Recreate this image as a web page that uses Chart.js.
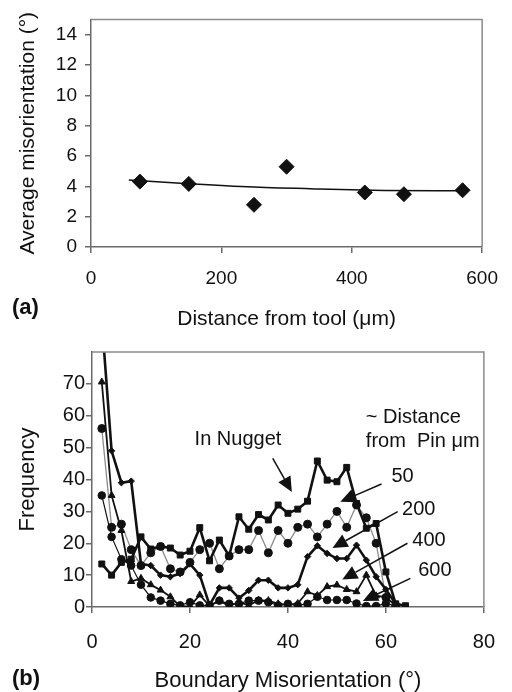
<!DOCTYPE html>
<html><head><meta charset="utf-8">
<script src="https://cdn.jsdelivr.net/npm/chart.js@4.4.0/dist/chart.umd.min.js"></script>
<style>
html,body{margin:0;padding:0;background:#fff;width:512px;height:692px;overflow:hidden}
canvas{position:absolute;left:0}
#ca{top:0}
#cb{top:330px}
</style></head><body>
<canvas id="ca" width="512" height="330"></canvas>
<canvas id="cb" width="512" height="362"></canvas>
<script>
// ---------- Panel (a) data ----------
const DIST_UM = [75, 150, 250, 300, 420, 480, 570];
const AVG_MISOR = [4.31, 4.16, 2.78, 5.29, 3.59, 3.48, 3.74];
const TREND_X = [58, 150, 250, 350, 450, 570];
const TREND_Y = [4.42, 4.17, 3.95, 3.82, 3.73, 3.70];
const A_X_TICKS = [0, 200, 400, 600];
const A_Y_TICKS = [0, 2, 4, 6, 8, 10, 12, 14];

// ---------- Panel (b) data ----------
const BIN_X = [2,4,6,8,10,12,14,16,18,20,22,24,26,28,30,32,34,36,38,40,42,44,46,48,50,52,54,56,58,60,62,64];
const IN_NUGGET = [13.5,10,14,15,22,18.2,19,18.5,16.3,17.5,24.9,14.5,21,16,28.3,24.4,29,27.3,32,29.4,30.7,33.2,45.8,39.8,39.3,43.8,32.5,24.7,26.2,11,1,0.4];
const PIN_50 = [56,25,26,18,13,17,19,12,11,14,18,20,12,16,18,18,24,17,24,20,25,26,22,26,30,25,32,28,20,3,0.5];
const PIN_200 = [90,49,39,39.5,13.5,13,10,9.5,10.5,13.5,10,0.6,6,6,2.8,5.2,8.4,8.4,6,6,7,15.8,19.2,16.8,15.2,15.2,19.4,14.7,9.5,5.5,1];
const PIN_400 = [70.6,35,24,8,9,7,5.3,3.2,0.2,0.2,3.8,0.3,2,0.3,1.6,0.5,2.1,2,1,0.7,1.1,4.8,3.6,6.4,6.9,5.5,4.8,10,3.5,3.2,0.4];
const PIN_600 = [35,22,15,13,7,3,2,1,0.5,1.5,0.5,0.5,2,1,1,2,2,1.5,0.5,1,0.5,1,3.2,2.2,2.2,2.2,1.1,0.3,0.3,1.1,0.3];
const B_X_TICKS = [0, 20, 40, 60, 80];
const B_Y_TICKS = [0, 10, 20, 30, 40, 50, 60, 70];

// annotation labels (in data units of panel b)
const NOTE_TEXT = ['In Nugget', '~ Distance', 'from  Pin \u03bcm', '50', '200', '400', '600'];
const NOTE_X = [29.8, 55.9, 55.9, 63.4, 66.7, 68.8, 70];
const NOTE_Y = [52.6, 59.4, 51.8, 41.1, 30.6, 20.9, 11.3];
const NOTE_ALIGN = ['center', 'left', 'left', 'center', 'center', 'center', 'center'];
const ARROW_FROM_X = [36.9, 59.1, 62.4, 64.4, 65.0];
const ARROW_FROM_Y = [46.6, 38.6, 29.9, 20.0, 9.0];
const ARROW_TO_X = [40.8, 50.7, 49.1, 51.1, 55.3];
const ARROW_TO_Y = [36.1, 33.0, 18.5, 8.6, 1.9];

const FONT = "'Liberation Sans', Arial, Helvetica, sans-serif";
const INK = '#111';
const AXIS = '#6a6a6a';

function pts(xs, ys) { return ys.map((y, i) => ({x: xs[i], y: y})); }

const framePlugin = {
  id: 'frame',
  afterDatasetsDraw(chart) {
    const a = chart.chartArea, c = chart.ctx;
    c.save();
    c.strokeStyle = '#8a8a8a';
    c.lineWidth = 1.5;
    c.beginPath();
    c.moveTo(a.left, a.top); c.lineTo(a.right, a.top); c.lineTo(a.right, a.bottom);
    c.stroke();
    c.restore();
  }
};

function panelLabel(text, x, y) {
  return {
    id: 'panel' + text,
    afterDraw(chart) {
      const c = chart.ctx;
      c.save();
      c.font = 'bold 22px ' + FONT;
      c.fillStyle = INK;
      c.textAlign = 'left';
      c.textBaseline = 'middle';
      c.fillText(text, x, y);
      c.restore();
    }
  };
}

const notesPlugin = {
  id: 'notes',
  afterDraw(chart) {
    const xs = chart.scales.x, ys = chart.scales.y, c = chart.ctx;
    c.save();
    c.fillStyle = INK;
    c.strokeStyle = INK;
    c.font = '20px ' + FONT;
    c.textBaseline = 'middle';
    NOTE_TEXT.forEach((t, i) => {
      c.textAlign = NOTE_ALIGN[i];
      c.fillText(t, xs.getPixelForValue(NOTE_X[i]), ys.getPixelForValue(NOTE_Y[i]));
    });
    ARROW_FROM_X.forEach((fx, i) => {
      const x0 = xs.getPixelForValue(fx), y0 = ys.getPixelForValue(ARROW_FROM_Y[i]);
      const x1 = xs.getPixelForValue(ARROW_TO_X[i]), y1 = ys.getPixelForValue(ARROW_TO_Y[i]);
      const L = Math.hypot(x1 - x0, y1 - y0), ux = (x1 - x0) / L, uy = (y1 - y0) / L;
      const head = 15, hw = 7;
      const bx = x1 - ux * head, by = y1 - uy * head;
      c.lineWidth = 1.5;
      c.beginPath(); c.moveTo(x0, y0); c.lineTo(bx, by); c.stroke();
      c.beginPath();
      c.moveTo(x1, y1);
      c.lineTo(bx - uy * hw, by + ux * hw);
      c.lineTo(bx + uy * hw, by - ux * hw);
      c.closePath(); c.fill();
    });
    c.restore();
  }
};

function axisCommon(fontSize, pad) {
  return {
    grid: {display: true, drawOnChartArea: false, drawTicks: true, tickLength: 6, color: AXIS, lineWidth: 1.5},
    border: {display: true, color: AXIS, width: 1.5},
    ticks: {font: {family: FONT, size: fontSize}, color: INK, padding: pad, maxRotation: 0, autoSkip: false}
  };
}

// ---------- Chart (a) ----------
const ax = axisCommon(19, 14), ay = axisCommon(19, 8);
new Chart(document.getElementById('ca'), {
  type: 'scatter',
  data: {datasets: [
    {data: pts(DIST_UM, AVG_MISOR), pointStyle: 'rectRot', pointRadius: 7.5, backgroundColor: INK, borderColor: INK, borderWidth: 1, showLine: false},
    {data: pts(TREND_X, TREND_Y), showLine: true, pointRadius: 0, borderColor: INK, borderWidth: 1.5, cubicInterpolationMode: 'monotone'}
  ]},
  options: {
    responsive: false, animation: false, devicePixelRatio: 1,
    layout: {padding: {top: 12, right: 25, left: 0, bottom: 0}},
    plugins: {legend: {display: false}, tooltip: {enabled: false}},
    scales: {
      x: Object.assign(ax, {
        type: 'linear', min: 0, max: 600,
        afterFit(s) { s.height = 83; },
        afterBuildTicks(s) { s.ticks = A_X_TICKS.map(v => ({value: v})); },
        title: {display: true, text: 'Distance from tool (\u03bcm)', color: INK, font: {family: FONT, size: 21, lineHeight: 1}, padding: {top: 12, bottom: 0}}
      }),
      y: Object.assign(ay, {
        type: 'linear', min: 0, max: 15,
        afterFit(s) { s.width = 91; },
        afterBuildTicks(s) { s.ticks = A_Y_TICKS.map(v => ({value: v})); },
        title: {display: true, text: 'Average misorientation (\u00b0)', color: INK, font: {family: FONT, size: 21, lineHeight: 1}, padding: {top: 18, bottom: 0}}
      })
    }
  },
  plugins: [framePlugin, panelLabel('(a)', 12, 308)]
});

// ---------- Chart (b) ----------
const bx = axisCommon(20, 17), by = axisCommon(20, 1);
function series(ys, style, radius, lineColor, width) {
  return {data: pts(BIN_X, ys), pointStyle: style, pointRadius: radius, pointBackgroundColor: INK, pointBorderColor: INK, pointBorderWidth: 1,
          borderColor: lineColor, borderWidth: width, tension: 0, fill: false};
}
new Chart(document.getElementById('cb'), {
  type: 'line',
  data: {datasets: [
    Object.assign(series(IN_NUGGET, 'rect', 4.2, INK, 2.6), {label: 'In Nugget'}),
    Object.assign(series(PIN_200, 'rectRot', 3.2, INK, 2.6), {label: '200'}),
    Object.assign(series(PIN_400, 'triangle', 4, INK, 1.8), {label: '400'}),
    Object.assign(series(PIN_600, 'circle', 3.8, INK, 1.2), {label: '600'}),
    Object.assign(series(PIN_50, 'circle', 4, '#8c8c8c', 1.3), {label: '50'})
  ]},
  options: {
    responsive: false, animation: false, devicePixelRatio: 1,
    layout: {padding: {top: 22, right: 16, left: 0, bottom: 0}},
    plugins: {legend: {display: false}, tooltip: {enabled: false}},
    scales: {
      x: Object.assign(bx, {
        type: 'linear', min: 0, max: 80,
        afterFit(s) { s.height = 85; },
        afterBuildTicks(s) { s.ticks = B_X_TICKS.map(v => ({value: v})); },
        title: {display: true, text: 'Boundary Misorientation (\u00b0)', color: INK, font: {family: FONT, size: 22, lineHeight: 1}, padding: {top: 3, bottom: 0}}
      }),
      y: Object.assign(by, {
        type: 'linear', min: 0, max: 80,
        afterFit(s) { s.width = 92; },
        afterBuildTicks(s) { s.ticks = B_Y_TICKS.map(v => ({value: v})); },
        title: {display: true, text: 'Frequency', color: INK, font: {family: FONT, size: 22, lineHeight: 1}, padding: {top: 17, bottom: 0}}
      })
    }
  },
  plugins: [framePlugin, notesPlugin, panelLabel('(b)', 12, 349)]
});
</script>
</body></html>
